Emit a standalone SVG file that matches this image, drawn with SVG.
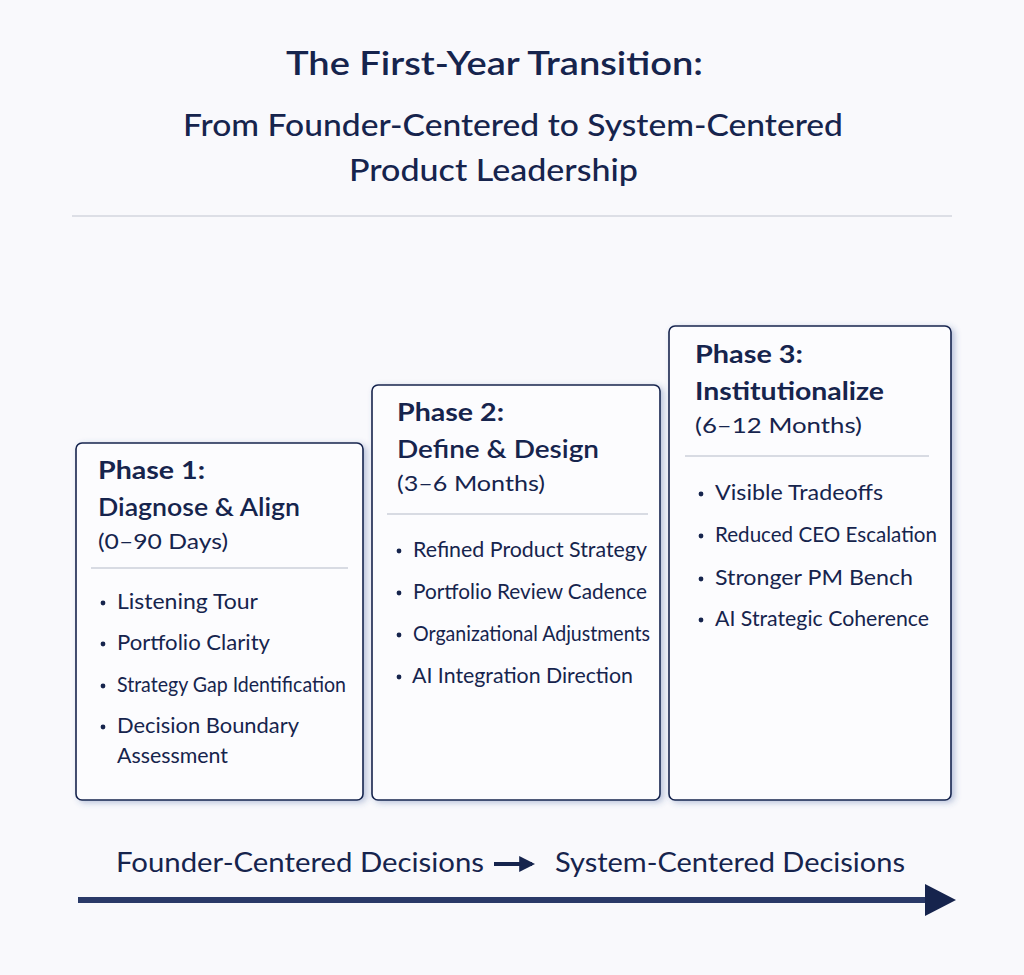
<svg xmlns="http://www.w3.org/2000/svg" width="1024" height="975" viewBox="0 0 1024 975">
<defs>
<style>
text{font-family:Lato,"Noto Sans",sans-serif;fill:#16244d}
.t{font-size:32px;font-weight:600}
.st{font-size:31px;font-weight:500}
.ph{font-size:24px;font-weight:700}
.nm{font-size:25px;font-weight:600}
.du{font-size:22px;font-weight:400}
.it{font-size:21px;font-weight:400}
.box{fill:#fcfcfe;stroke:#16244d;stroke-width:1.6}
.div{stroke:#b4bac8;stroke-width:1.2}
.lab{font-size:26px;font-weight:400}
</style>
<filter id="sh" x="-10%" y="-10%" width="130%" height="130%">
<feDropShadow dx="3" dy="2" stdDeviation="3" flood-color="#3a5a9a" flood-opacity="0.35"/>
</filter>
<marker id="ah" viewBox="0 0 10 10" refX="8" refY="5" markerWidth="4" markerHeight="4" orient="auto" markerUnits="strokeWidth"><path d="M0,0 L10,5 L0,10 z" fill="#16244d"/></marker>
</defs>
<rect width="1024" height="975" fill="#f9f9fc"/>
<g id="title">
<text class="t" x="286" y="75" textLength="417" lengthAdjust="spacingAndGlyphs">The First-Year Transition:</text>
<text class="st" x="183" y="136" textLength="660" lengthAdjust="spacingAndGlyphs">From Founder-Centered to System-Centered</text>
<text class="st" x="349" y="181" textLength="289" lengthAdjust="spacingAndGlyphs">Product Leadership</text>
<line x1="72" y1="216" x2="952" y2="216" stroke="#c2c6d0" stroke-width="1.2"/>
</g>
<g id="phase1">
<rect class="box" x="76" y="443" width="287" height="357" rx="6" filter="url(#sh)"/>
<text class="ph" x="98" y="479" textLength="107" lengthAdjust="spacingAndGlyphs">Phase 1:</text>
<text class="nm" x="98" y="516" textLength="202" lengthAdjust="spacingAndGlyphs">Diagnose &amp; Align</text>
<text class="du" x="98" y="549" textLength="130" lengthAdjust="spacingAndGlyphs">(0–90 Days)</text>
<line class="div" x1="91" y1="568" x2="348" y2="568"/>
<circle cx="103" cy="603" r="2.4" fill="#16244d"/><text class="it" x="117" y="609" textLength="141" lengthAdjust="spacingAndGlyphs">Listening Tour</text>
<circle cx="103" cy="644" r="2.4" fill="#16244d"/><text class="it" x="117" y="650" textLength="153" lengthAdjust="spacingAndGlyphs">Portfolio Clarity</text>
<circle cx="103" cy="686" r="2.4" fill="#16244d"/><text class="it" x="117" y="692" textLength="229" lengthAdjust="spacingAndGlyphs">Strategy Gap Identification</text>
<circle cx="103" cy="727" r="2.4" fill="#16244d"/><text class="it" x="117" y="733" textLength="182" lengthAdjust="spacingAndGlyphs">Decision Boundary</text>
<text class="it" x="117" y="763" textLength="111" lengthAdjust="spacingAndGlyphs">Assessment</text>
</g>
<g id="phase2">
<rect class="box" x="372" y="385" width="288" height="415" rx="6" filter="url(#sh)"/>
<text class="ph" x="397" y="421" textLength="107" lengthAdjust="spacingAndGlyphs">Phase 2:</text>
<text class="nm" x="397" y="458" textLength="202" lengthAdjust="spacingAndGlyphs">Define &amp; Design</text>
<text class="du" x="397" y="491" textLength="148" lengthAdjust="spacingAndGlyphs">(3–6 Months)</text>
<line class="div" x1="387" y1="514" x2="648" y2="514"/>
<circle cx="399" cy="551" r="2.4" fill="#16244d"/><text class="it" x="413" y="557" textLength="234" lengthAdjust="spacingAndGlyphs">Refined Product Strategy</text>
<circle cx="399" cy="593" r="2.4" fill="#16244d"/><text class="it" x="413" y="599" textLength="234" lengthAdjust="spacingAndGlyphs">Portfolio Review Cadence</text>
<circle cx="399" cy="635" r="2.4" fill="#16244d"/><text class="it" x="413" y="641" textLength="237" lengthAdjust="spacingAndGlyphs">Organizational Adjustments</text>
<circle cx="399" cy="677" r="2.4" fill="#16244d"/><text class="it" x="412" y="683" textLength="221" lengthAdjust="spacingAndGlyphs">AI Integration Direction</text>
</g>
<g id="phase3">
<rect class="box" x="669" y="326" width="282" height="474" rx="6" filter="url(#sh)"/>
<text class="ph" x="695" y="363" textLength="108" lengthAdjust="spacingAndGlyphs">Phase 3:</text>
<text class="ph" x="695" y="400" textLength="189" lengthAdjust="spacingAndGlyphs">Institutionalize</text>
<text class="du" x="695" y="433" textLength="167" lengthAdjust="spacingAndGlyphs">(6–12 Months)</text>
<line class="div" x1="685" y1="456" x2="929" y2="456"/>
<circle cx="701" cy="494" r="2.4" fill="#16244d"/><text class="it" x="715" y="500" textLength="168" lengthAdjust="spacingAndGlyphs">Visible Tradeoffs</text>
<circle cx="701" cy="536" r="2.4" fill="#16244d"/><text class="it" x="715" y="542" textLength="222" lengthAdjust="spacingAndGlyphs">Reduced CEO Escalation</text>
<circle cx="701" cy="579" r="2.4" fill="#16244d"/><text class="it" x="715" y="585" textLength="198" lengthAdjust="spacingAndGlyphs">Stronger PM Bench</text>
<circle cx="701" cy="620" r="2.4" fill="#16244d"/><text class="it" x="715" y="626" textLength="214" lengthAdjust="spacingAndGlyphs">AI Strategic Coherence</text>
</g>
<g id="axis-labels">
<text class="lab" x="116" y="872" textLength="368" lengthAdjust="spacingAndGlyphs">Founder-Centered Decisions</text>
<text class="lab" x="555" y="872" textLength="350" lengthAdjust="spacingAndGlyphs">System-Centered Decisions</text>
</g>
<g id="connectors">
<line x1="494" y1="864" x2="532" y2="864" stroke="#16244d" stroke-width="4" marker-end="url(#ah)"/>
<line x1="78" y1="900" x2="928" y2="900" stroke="#2a3a68" stroke-width="6"/>
<path d="M925,884 L956,900 L925,916 z" fill="#16244d"/>
</g>
</svg>
